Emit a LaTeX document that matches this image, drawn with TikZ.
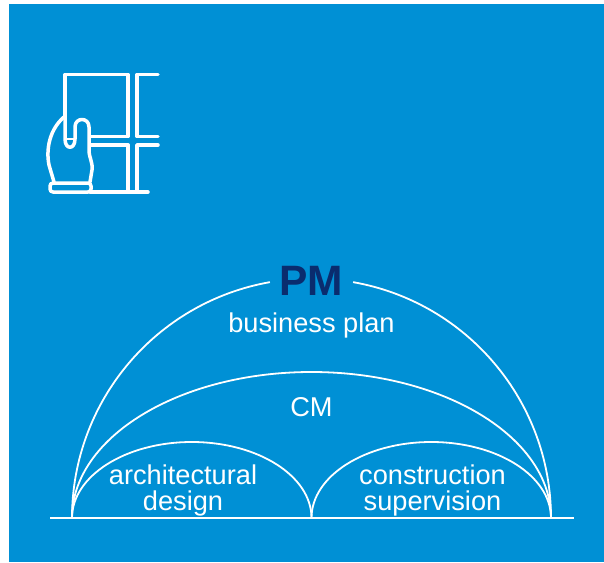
\documentclass[tikz,border=0pt]{standalone}
\usepackage{fontspec}
\setmainfont{Liberation Sans}
\definecolor{bgblue}{HTML}{0090D5}
\definecolor{pmblue}{HTML}{0A2C6E}
\tikzset{
  arcline/.style={draw=white,line width=1.8pt},
  iconline/.style={draw=white,line width=3.5pt,line cap=round,line join=round},
  lab/.style={text=white,font=\fontsize{27.2}{27.2}\selectfont,inner sep=0pt,align=center},
}
\begin{document}
\begin{tikzpicture}[x=1pt,y=-1pt]
\useasboundingbox (0,0) rectangle (604,562);
\fill[bgblue] (9,4) rectangle (604,562);
% arcs
\coordinate (L) at (72,518);
\coordinate (M) at (311.5,518);
\coordinate (R) at (551,518);
\draw[arcline] (50,518) -- (574,518);
\draw[arcline] (L) arc[start angle=180,end angle=100,x radius=239.5,y radius=-239.5];
\draw[arcline] (R) arc[start angle=0,end angle=80,x radius=239.5,y radius=-239.5];
\draw[arcline] (L) arc[start angle=180,end angle=0,x radius=239.5,y radius=-146];
\draw[arcline] (L) arc[start angle=180,end angle=0,x radius=119.75,y radius=-76];
\draw[arcline] (M) arc[start angle=180,end angle=0,x radius=119.75,y radius=-76];
% labels
\node[text=pmblue,font=\fontsize{42.5}{42.5}\selectfont\bfseries,inner sep=0pt,anchor=base] (pm) at (311.5,295) {PM};
\node[lab,anchor=base] (bp) at (311.5,332) {business plan};
\node[lab,anchor=base] (cm) at (311.5,416) {CM};
\node[lab,anchor=base] (ad) at (183,484) {architectural};
\node[lab,anchor=base] (ad2) at (183,510) {design};
\node[lab,anchor=base] (cs) at (432.5,484) {construction};
\node[lab,anchor=base] (cs2) at (432.5,510) {supervision};
% icon
\draw[iconline] (65,118) -- (65,74.5) -- (128,74.5) -- (128,136.5) -- (90,136.5);
\draw[iconline] (90,145) -- (128,145);
\draw[iconline] (128,145) -- (128,192);
\draw[iconline] (158,74.5) -- (137,74.5) -- (137,136.5) -- (158,136.5);
\draw[iconline] (158,145) -- (137,145) -- (137,192);
\draw[iconline] (90,192) -- (148,192);
\draw[iconline] (65,118) -- (65,139) .. controls (65,150) and (75,150) .. (75,139) -- (75,127)
  .. controls (75,117) and (89,117) .. (89,127) -- (89,150) .. controls (89,158) and (93,162) .. (92,170) -- (90,182);
\draw[line width=2pt,draw=white] (67,139) -- (74,139);
\draw[iconline] (64,117) .. controls (49,130) and (46,150) .. (49,165) -- (54,182);
\draw[iconline,rounded corners=3pt] (50,183) rectangle (91,192);
\end{tikzpicture}
\end{document}
